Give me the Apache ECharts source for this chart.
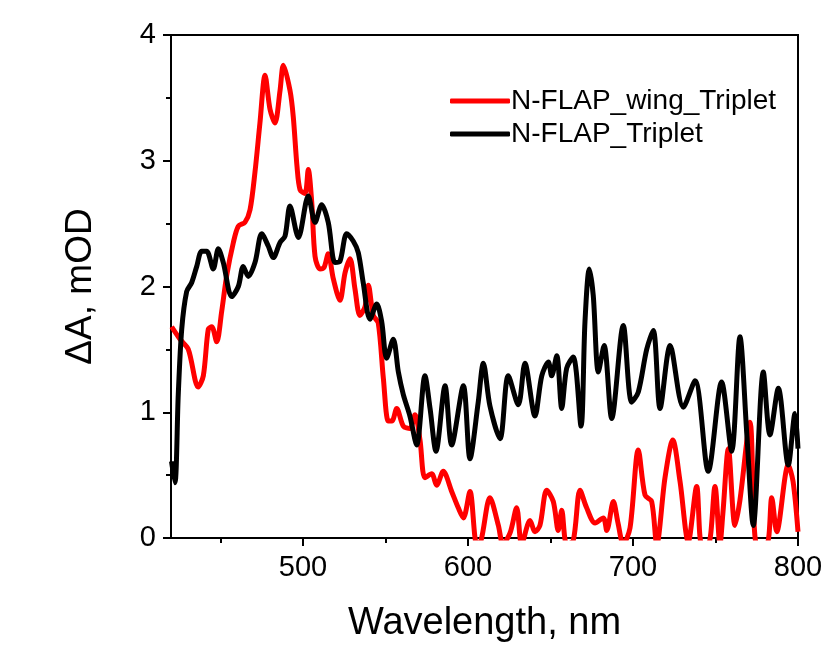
<!DOCTYPE html>
<html>
<head>
<meta charset="utf-8">
<script src="https://cdn.jsdelivr.net/npm/echarts@6/dist/echarts.min.js"></script>
<style>
html,body{margin:0;padding:0;background:#fff;}
#chart{width:829px;height:648px;}
</style>
</head>
<body>
<div id="chart"></div>
<script>
// ---- data ----
const seriesNames = ['N-FLAP_wing_Triplet', 'N-FLAP_Triplet'];
const xMajorTicks = [500, 600, 700, 800];
const xMinorTicks = [450, 550, 650, 750];

const redWl = [420.4, 425.5, 430.5, 436.5, 439.6, 442.6, 444.7, 447.7, 450.7, 453.8, 457.8, 460.8, 464.8, 467.9, 470.9, 473.9, 477.0, 480.0, 483.0, 486.1, 488.1, 492.1, 494.1, 496.4, 498.2, 501.2, 503.2, 505.3, 507.3, 510.3, 512.7, 515.3, 518.4, 522.4, 525.5, 528.5, 531.5, 534.5, 537.6, 539.6, 542.6, 545.6, 548.7, 551.7, 553.9, 556.8, 560.8, 564.8, 567.9, 570.9, 573.9, 578.0, 581.0, 585.0, 590.1, 594.1, 597.2, 601.2, 605.3, 607.9, 613.3, 618.4, 621.2, 625.5, 629.5, 632.5, 637.6, 640.6, 643.6, 647.7, 651.7, 654.7, 656.8, 659.8, 663.8, 667.9, 671.9, 677.0, 682.0, 684.1, 688.1, 690.9, 694.1, 698.2, 703.2, 707.3, 711.3, 714.4, 719.4, 724.1, 728.5, 733.5, 738.6, 741.6, 745.6, 749.7, 752.7, 754.5, 757.8, 761.8, 764.8, 770.9, 775.0, 781.0, 784.1, 787.1, 794.1, 797.0, 800.0];
const redDA = [1.68, 1.58, 1.50, 1.20, 1.29, 1.66, 1.68, 1.56, 1.80, 2.09, 2.35, 2.48, 2.51, 2.61, 2.91, 3.30, 3.68, 3.41, 3.30, 3.56, 3.76, 3.56, 3.35, 2.95, 2.77, 2.74, 2.93, 2.67, 2.24, 2.14, 2.15, 2.26, 2.06, 1.89, 2.11, 2.22, 1.98, 1.77, 1.84, 2.01, 1.77, 1.71, 1.27, 0.93, 0.93, 1.03, 0.89, 0.87, 0.98, 0.78, 0.48, 0.51, 0.42, 0.53, 0.37, 0.24, 0.16, 0.37, -0.05, -0.02, 0.32, 0.10, -0.05, 0.04, 0.24, -0.05, 0.14, 0.05, 0.10, 0.38, 0.29, 0.06, 0.22, -0.05, -0.02, 0.38, 0.24, 0.12, 0.16, 0.06, 0.29, 0.12, -0.05, 0.08, 0.70, 0.34, 0.29, -0.05, 0.48, 0.78, 0.45, -0.03, 0.41, -0.05, -0.05, 0.41, -0.05, 0.20, 0.71, 0.10, 0.30, 0.92, -0.05, -0.05, 0.32, 0.05, 0.58, 0.45, 0.05];

const blackWl = [420.3, 422.4, 424.4, 426.5, 429.5, 432.5, 435.6, 438.6, 441.6, 445.6, 448.7, 451.7, 456.8, 460.8, 463.8, 466.8, 470.9, 475.0, 479.0, 482.0, 486.1, 489.1, 492.1, 497.2, 503.2, 507.3, 511.3, 515.3, 519.4, 522.4, 526.5, 530.5, 533.5, 536.5, 540.6, 544.7, 547.7, 550.7, 554.7, 557.8, 560.8, 564.8, 568.9, 573.9, 577.0, 580.6, 586.1, 590.1, 597.2, 601.2, 606.2, 609.3, 613.3, 619.4, 624.4, 630.5, 634.5, 640.6, 644.7, 648.7, 650.7, 653.8, 656.8, 659.8, 663.8, 668.5, 670.9, 673.5, 675.9, 679.0, 682.5, 687.1, 694.1, 699.2, 703.2, 708.3, 712.3, 716.4, 722.5, 730.5, 737.6, 745.6, 753.7, 759.8, 764.8, 769.1, 772.9, 779.0, 783.0, 788.1, 794.1, 798.2, 800.0];
const blackDA = [0.61, 0.44, 1.14, 1.66, 1.96, 2.03, 2.16, 2.28, 2.28, 2.14, 2.30, 2.19, 1.92, 2.00, 2.16, 2.08, 2.19, 2.42, 2.32, 2.23, 2.35, 2.40, 2.64, 2.39, 2.72, 2.51, 2.65, 2.51, 2.19, 2.20, 2.42, 2.36, 2.27, 2.03, 1.74, 1.86, 1.72, 1.43, 1.58, 1.32, 1.14, 0.97, 0.74, 1.29, 1.03, 0.69, 1.21, 0.74, 1.21, 0.63, 1.08, 1.39, 1.05, 0.79, 1.29, 1.06, 1.39, 0.97, 1.29, 1.40, 1.29, 1.45, 1.03, 1.35, 1.44, 0.89, 1.72, 2.14, 1.93, 1.32, 1.53, 0.95, 1.69, 1.08, 1.16, 1.50, 1.65, 1.03, 1.53, 1.04, 1.25, 0.53, 1.24, 0.69, 1.60, 0.80, 0.10, 1.32, 0.82, 1.19, 0.58, 0.99, 0.71];

const pairs = (xs, ys) => xs.map((x, i) => [x, ys[i]]);

const FONT = '"Liberation Sans", Arial, sans-serif';
const chart = echarts.init(document.getElementById('chart'), null, {renderer: 'canvas'});
chart.setOption({
  backgroundColor: '#ffffff',
  animation: false,
  grid: {left: 171, right: 31, top: 35, bottom: 108, show: true, borderColor: '#000', borderWidth: 2, backgroundColor: 'transparent'},
  legend: {
    data: seriesNames,
    orient: 'vertical',
    left: 445,
    top: 82,
    itemWidth: 60,
    itemHeight: 5,
    itemGap: 5,
    icon: 'roundRect',
    textStyle: {fontFamily: FONT, fontSize: 28, color: '#000', padding: [0, 0, 0, -4]}
  },
  xAxis: [{
    type: 'value', min: 420, max: 800,
    name: 'Wavelength, nm', nameLocation: 'middle', nameGap: 67,
    nameTextStyle: {fontFamily: FONT, fontSize: 38, color: '#000'},
    axisLine: {show: true, lineStyle: {color: '#000', width: 2}},
    axisTick: {show: true, customValues: xMajorTicks, length: 8, lineStyle: {color: '#000', width: 2}},
    axisLabel: {customValues: xMajorTicks, fontFamily: FONT, fontSize: 29, color: '#000', margin: 15},
    splitLine: {show: false}
  }, {
    type: 'value', min: 420, max: 800, position: 'bottom',
    axisLine: {show: false},
    axisTick: {show: true, customValues: xMinorTicks, length: 5, lineStyle: {color: '#000', width: 2}},
    axisLabel: {show: false},
    splitLine: {show: false}
  }],
  yAxis: {
    type: 'value', min: 0, max: 4, interval: 1,
    name: 'ΔA, mOD', nameLocation: 'middle', nameGap: 72, nameRotate: 90,
    nameTextStyle: {fontFamily: FONT, fontSize: 37, color: '#000'},
    axisLine: {show: true, lineStyle: {color: '#000', width: 2}},
    axisTick: {show: true, length: 8, lineStyle: {color: '#000', width: 2}},
    minorTick: {show: true, splitNumber: 2, length: 5, lineStyle: {color: '#000', width: 2}},
    axisLabel: {fontFamily: FONT, fontSize: 29, color: '#000', margin: 15},
    splitLine: {show: false}
  },
  series: [{
    name: seriesNames[0], type: 'line', xAxisIndex: 0, data: pairs(redWl, redDA),
    showSymbol: false, smooth: 0.3, clip: true,
    lineStyle: {color: '#ff0000', width: 5}, itemStyle: {color: '#ff0000'}
  }, {
    name: seriesNames[1], type: 'line', xAxisIndex: 0, data: pairs(blackWl, blackDA),
    showSymbol: false, smooth: 0.3, clip: true,
    lineStyle: {color: '#000000', width: 5}, itemStyle: {color: '#000000'}
  }]
});
</script>
</body>
</html>
